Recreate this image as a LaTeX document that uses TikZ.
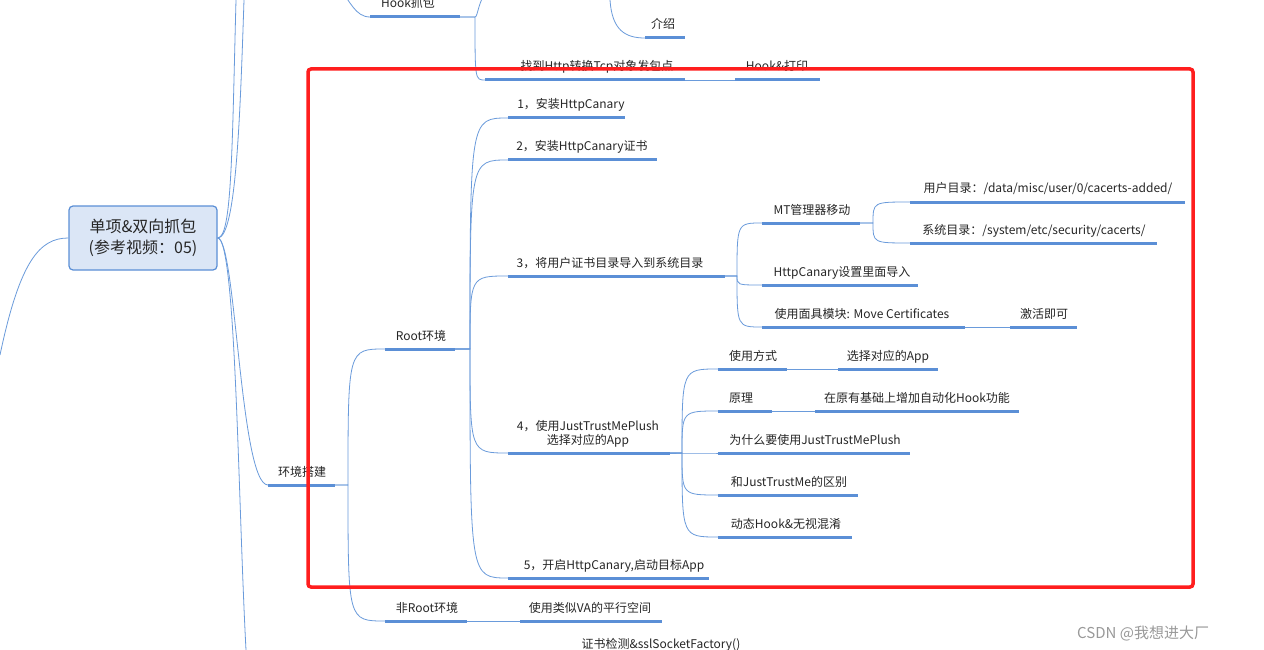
\documentclass[tikz,border=0pt]{standalone}
\usepackage{fontspec}
\setmainfont{Noto Sans CJK SC}
\usetikzlibrary{calc}
\definecolor{ul}{HTML}{5B8FD6}
\definecolor{cn}{HTML}{6A9BDB}
\definecolor{rd}{HTML}{FF1E1E}
\tikzset{
  lbl/.style={anchor=base,inner sep=0pt,font=\fontsize{12}{14}\selectfont,text=black!85},
  uline/.style={draw=ul,line width=3pt},
  conn/.style={draw=cn,line width=0.8pt},
  mm/.style={to path={let \p1=(\tikztostart), \p2=(\tikztotarget) in (\p1) -- (\x1+#1,\y1) .. controls (\x1+#1,\y2) .. (\p2)}},
  mm/.default=12pt
}
% \mmitem{name}{x1}{x2}{y}{textx}{text}
\newcommand\mmitem[6]{%
  \coordinate (#1-s) at (#2,#4);
  \coordinate (#1-e) at (#3,#4);
  \draw[uline] (#1-s) -- (#1-e);
  \node[lbl] (#1) at (#5,#4-9) {#6};}
\begin{document}
\begin{tikzpicture}[x=1pt,y=-1pt]
\useasboundingbox (0,0) rectangle (1264,650);
\fill[white] (0,0) rectangle (1264,650);
% central
\node[draw=ul,fill=ul!22,line width=1.2pt,rounded corners=4pt,minimum width=148pt,minimum height=64pt,align=center,font=\fontsize{16}{21}\selectfont,text=black!85] (root) at (143,238) {单项\&双向抓包\\(参考视频：05)};
\coordinate (lefts) at (0,355);
\draw[conn] (lefts) .. controls (20,260) and (40,238) .. (root.west);
\coordinate (topA) at (236,0);
\coordinate (topB) at (244,0);
\draw[conn] (root.east) .. controls (232,238) and (232,150) .. (topA);
\draw[conn] (root.east) .. controls (236,238) and (240,120) .. (topB);
\coordinate (botA) at (246,650);
\draw[conn] (root.east) .. controls (236,238) and (238,500) .. (botA);
% top branch
\mmitem{hook}{370}{460}{17}{408}{Hook抓包}
\coordinate (hookup) at (340,-10);
\draw[conn] (hook-s) .. controls (355,17) and (350,0) .. (hookup);
\coordinate (hooktop) at (488,-10);
\draw[conn] (hook-e) -- (475,17) .. controls (478,17) and (478,0) .. (hooktop);
\mmitem{jieshao}{645}{685}{38}{663}{介绍}
\coordinate (jsup) at (610,0);
\draw[conn] (jsup) .. controls (612,30) and (625,38) .. (jieshao-s);
\mmitem{zhao}{485}{685}{80}{597}{找到Http转换Tcp对象发包点}
\draw[conn] (hook-e) to[mm=15pt] (zhao-s);
\mmitem{hookprint}{735}{820}{80}{777}{Hook\&打印}
\draw[conn] (zhao-e) -- (hookprint-s);
% env
\mmitem{env}{268}{335}{485}{302}{环境搭建}
\draw[conn] (root.east) .. controls (236,238) and (240,485) .. (env-s);
\mmitem{rootenv}{385}{455}{349}{421}{Root环境}
\mmitem{nonroot}{385}{467}{621}{427}{非Root环境}
\draw[conn] (env-e) to[mm=13pt] (rootenv-s);
\draw[conn] (env-e) to[mm=13pt] (nonroot-s);
\mmitem{va}{520}{662}{621}{590}{使用类似VA的平行空间}
\draw[conn] (nonroot-e) -- (va-s);
\node[lbl] (cert) at (661,648) {证书检测\&sslSocketFactory()};
% Root children
\mmitem{s1}{508}{625}{118}{571}{1，安装HttpCanary}
\mmitem{s2}{508}{657}{160}{582}{2，安装HttpCanary证书}
\mmitem{s3}{508}{725}{276}{610}{3，将用户证书目录导入到系统目录}
\coordinate (s4-s) at (508,453);\coordinate (s4-e) at (670,453);
\draw[uline] (s4-s) -- (s4-e);
\node[lbl,align=center] (s4) at (588,444) {4，使用JustTrustMePlush\\选择对应的App};
\mmitem{s5}{508}{709}{578}{614}{5，开启HttpCanary,启动目标App}
\foreach \c in {s1,s2,s3,s4,s5} \draw[conn] (rootenv-e) to[mm=15pt] (\c-s);
% 3 children
\mmitem{mt}{762}{860}{223}{812}{MT管理器移动}
\mmitem{hc}{762}{918}{285}{842}{HttpCanary设置里面导入}
\mmitem{mask}{762}{965}{327}{862}{使用面具模块: Move Certificates}
\mmitem{act}{1010}{1077}{327}{1044}{激活即可}
\foreach \c in {mt,hc,mask} \draw[conn] (s3-e) to[mm=12pt] (\c-s);
\draw[conn] (mask-e) -- (act-s);
\mmitem{ud}{910}{1185}{202}{1048}{用户目录：/data/misc/user/0/cacerts-added/}
\mmitem{sd}{910}{1157}{243}{1034}{系统目录：/system/etc/security/cacerts/}
\foreach \c in {ud,sd} \draw[conn] (mt-e) to[mm=13pt] (\c-s);
% 4 children
\mmitem{use}{718}{787}{369}{753}{使用方式}
\mmitem{sel}{838}{938}{369}{888}{选择对应的App}
\mmitem{yl}{718}{772}{411}{741}{原理}
\mmitem{zd}{815}{1019}{411}{917}{在原有基础上增加自动化Hook功能}
\mmitem{why}{718}{910}{453}{815}{为什么要使用JustTrustMePlush}
\mmitem{diff}{718}{858}{495}{789}{和JustTrustMe的区别}
\mmitem{dyn}{718}{852}{537}{786}{动态Hook\&无视混淆}
\foreach \c in {use,yl,why,diff,dyn} \draw[conn] (s4-e) to[mm=12pt] (\c-s);
\draw[conn] (use-e) -- (sel-s);
\draw[conn] (yl-e) -- (zd-s);
% red frame
\draw[rd,line width=3.5pt,rounded corners=3pt] (308,69) rectangle (1193,587);
% watermark
\node[anchor=base west,inner sep=0pt,font=\fontsize{15}{18}\selectfont,text=black!40] (wm) at (1077,638) {CSDN @我想进大厂};
\end{tikzpicture}
\end{document}
